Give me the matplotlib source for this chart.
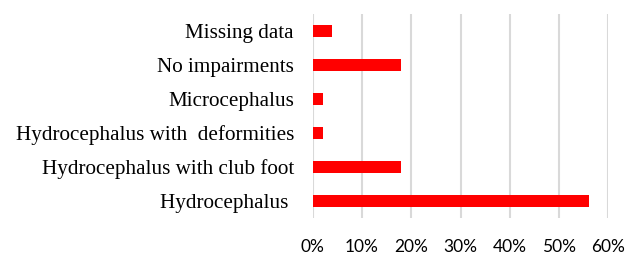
import matplotlib.pyplot as plt
from matplotlib.ticker import PercentFormatter

# categories bottom to top
categories = [
    "Hydrocephalus ",
    "Hydrocephalus with club foot",
    "Hydrocephalus with  deformities",
    "Microcephalus",
    "No impairments",
    "Missing data",
]
shares = [0.56, 0.18, 0.02, 0.02, 0.18, 0.04]
xticks = [0, 0.1, 0.2, 0.3, 0.4, 0.5, 0.6]

fig = plt.figure(figsize=(6.4, 2.54), dpi=100)
ax = fig.add_axes([0.4886, 0.1417, 0.4619, 0.8032])

ax.barh(range(len(categories)), shares, height=0.34, color="#FF0000", zorder=3)

ax.set_xlim(0, 0.6)
ax.set_ylim(-0.5, len(categories) - 0.5)
ax.set_xticks(xticks)
ax.xaxis.set_major_formatter(PercentFormatter(1.0, decimals=0))
ax.set_yticks(range(len(categories)))
ax.set_yticklabels(categories, family="Liberation Serif", fontsize=15.2)
for lab in ax.get_xticklabels():
    lab.set_family("Lato")
    lab.set_fontsize(12.5)

ax.grid(axis="x", color="#D9D9D9", linewidth=1.5, zorder=0)
for s in ax.spines.values():
    s.set_visible(False)
ax.tick_params(axis="y", length=0, pad=13.5)
ax.tick_params(axis="x", length=0, pad=15, colors="#000000")

fig.savefig("out.png", dpi=100)
